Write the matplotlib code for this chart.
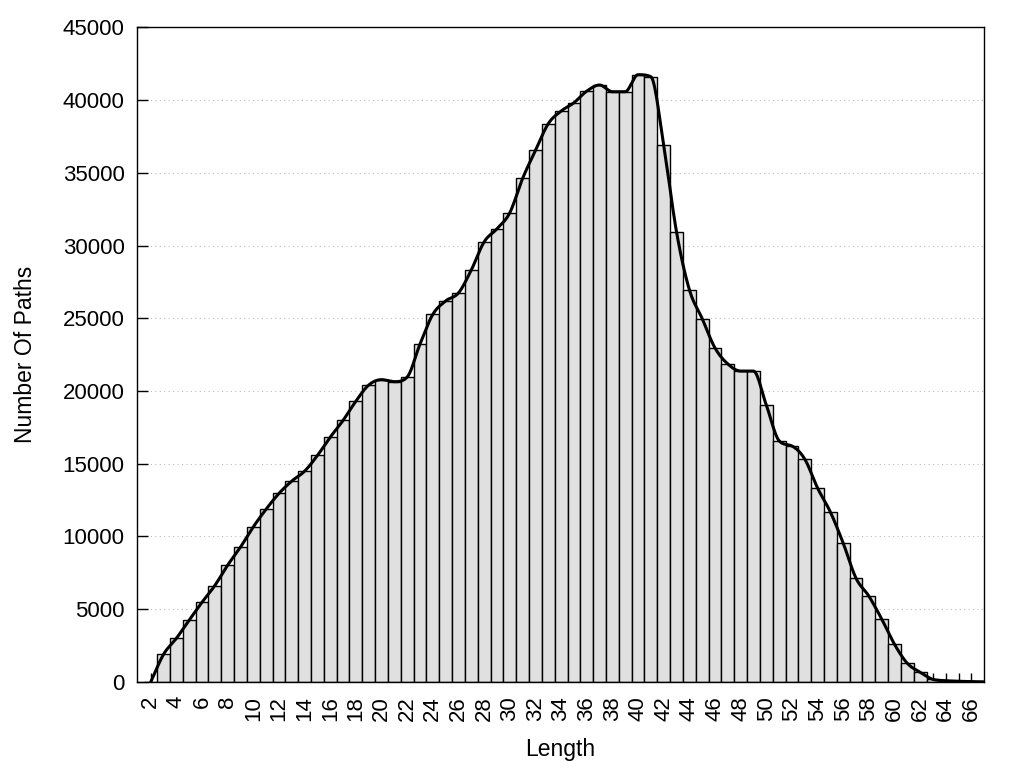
import numpy as np
import matplotlib
matplotlib.use("Agg")
import matplotlib.pyplot as plt

plt.rcParams['font.family'] = ['Liberation Sans', 'DejaVu Sans']

# Datos: longitud de camino y numero de caminos
lengths = list(range(2, 68))
counts = [0, 1900, 3000, 4250, 5480, 6630, 8030, 9270, 10660, 11880,
          12960, 13810, 14490, 15570, 16830, 17980, 19300, 20410, 20780, 20640,
          20960, 23230, 25270, 26190, 26740, 28320, 30250, 31150, 32250, 34610,
          36530, 38370, 39240, 39810, 40610, 41030, 40570, 40570, 41740, 41600,
          36920, 30940, 26970, 24980, 22960, 21860, 21370, 21370, 19040, 16580,
          16220, 15320, 13330, 11680, 9540, 7130, 5900, 4330, 2590, 1280,
          670, 180, 90, 50, 25, 10]


def mono_spline(x, y, xs):
    # spline cubico monotono (Fritsch-Carlson, como "smooth mcsplines")
    x = np.asarray(x, float)
    y = np.asarray(y, float)
    h = np.diff(x)
    d = np.diff(y) / h
    m = np.zeros(len(x))
    m[0], m[-1] = d[0], d[-1]
    for i in range(1, len(x) - 1):
        if d[i - 1] * d[i] > 0:
            m[i] = (d[i - 1] + d[i]) / 2
    for i in range(len(d)):
        if d[i] == 0:
            m[i] = m[i + 1] = 0
            continue
        a, b = m[i] / d[i], m[i + 1] / d[i]
        s = a * a + b * b
        if s > 9:
            t = 3 / np.sqrt(s)
            m[i], m[i + 1] = t * a * d[i], t * b * d[i]
    idx = np.clip(np.searchsorted(x, xs) - 1, 0, len(x) - 2)
    hh = h[idx]
    t = (xs - x[idx]) / hh
    h00 = 2 * t**3 - 3 * t**2 + 1
    h10 = t**3 - 2 * t**2 + t
    h01 = -2 * t**3 + 3 * t**2
    h11 = t**3 - t**2
    return h00 * y[idx] + h10 * hh * m[idx] + h01 * y[idx + 1] + h11 * hh * m[idx + 1]


fig = plt.figure(figsize=(10.24, 7.68), dpi=100)
ax = fig.add_axes([0.1338, 0.112, 0.8274, 0.8525])

ax.bar(lengths, counts, width=1.0, color='#e0e0e0', edgecolor='black',
       linewidth=1.0, zorder=1)

xs = np.linspace(lengths[0], lengths[-1], 1000)
ax.plot(xs, mono_spline(lengths, counts, xs), color='black', lw=2.2, zorder=3)

ax.set_xlim(0.93, 67.0)
ax.set_ylim(0, 45000)
ax.set_yticks(np.arange(0, 45001, 5000))
ax.set_xticks(range(2, 67))
ax.set_xticklabels([str(v) if v % 2 == 0 else '' for v in range(2, 67)],
                   rotation=90)

ax.set_axisbelow(True)
ax.grid(axis='y', color='#bbbbbb', linestyle=(0, (1, 3)), linewidth=0.8)
ax.tick_params(axis='y', direction='in', length=8, width=1, labelsize=16, pad=9)
ax.tick_params(axis='x', direction='in', length=6.5, width=1, labelsize=16, pad=10)
for s in ax.spines.values():
    s.set_linewidth(1.0)

ax.set_xlabel("Length", fontsize=16.5)
ax.set_ylabel("Number Of Paths", fontsize=16.5)
ax.xaxis.set_label_coords(0.5, -0.086)
ax.yaxis.set_label_coords(-0.118, 0.5)

plt.savefig("out.png", dpi=100)
